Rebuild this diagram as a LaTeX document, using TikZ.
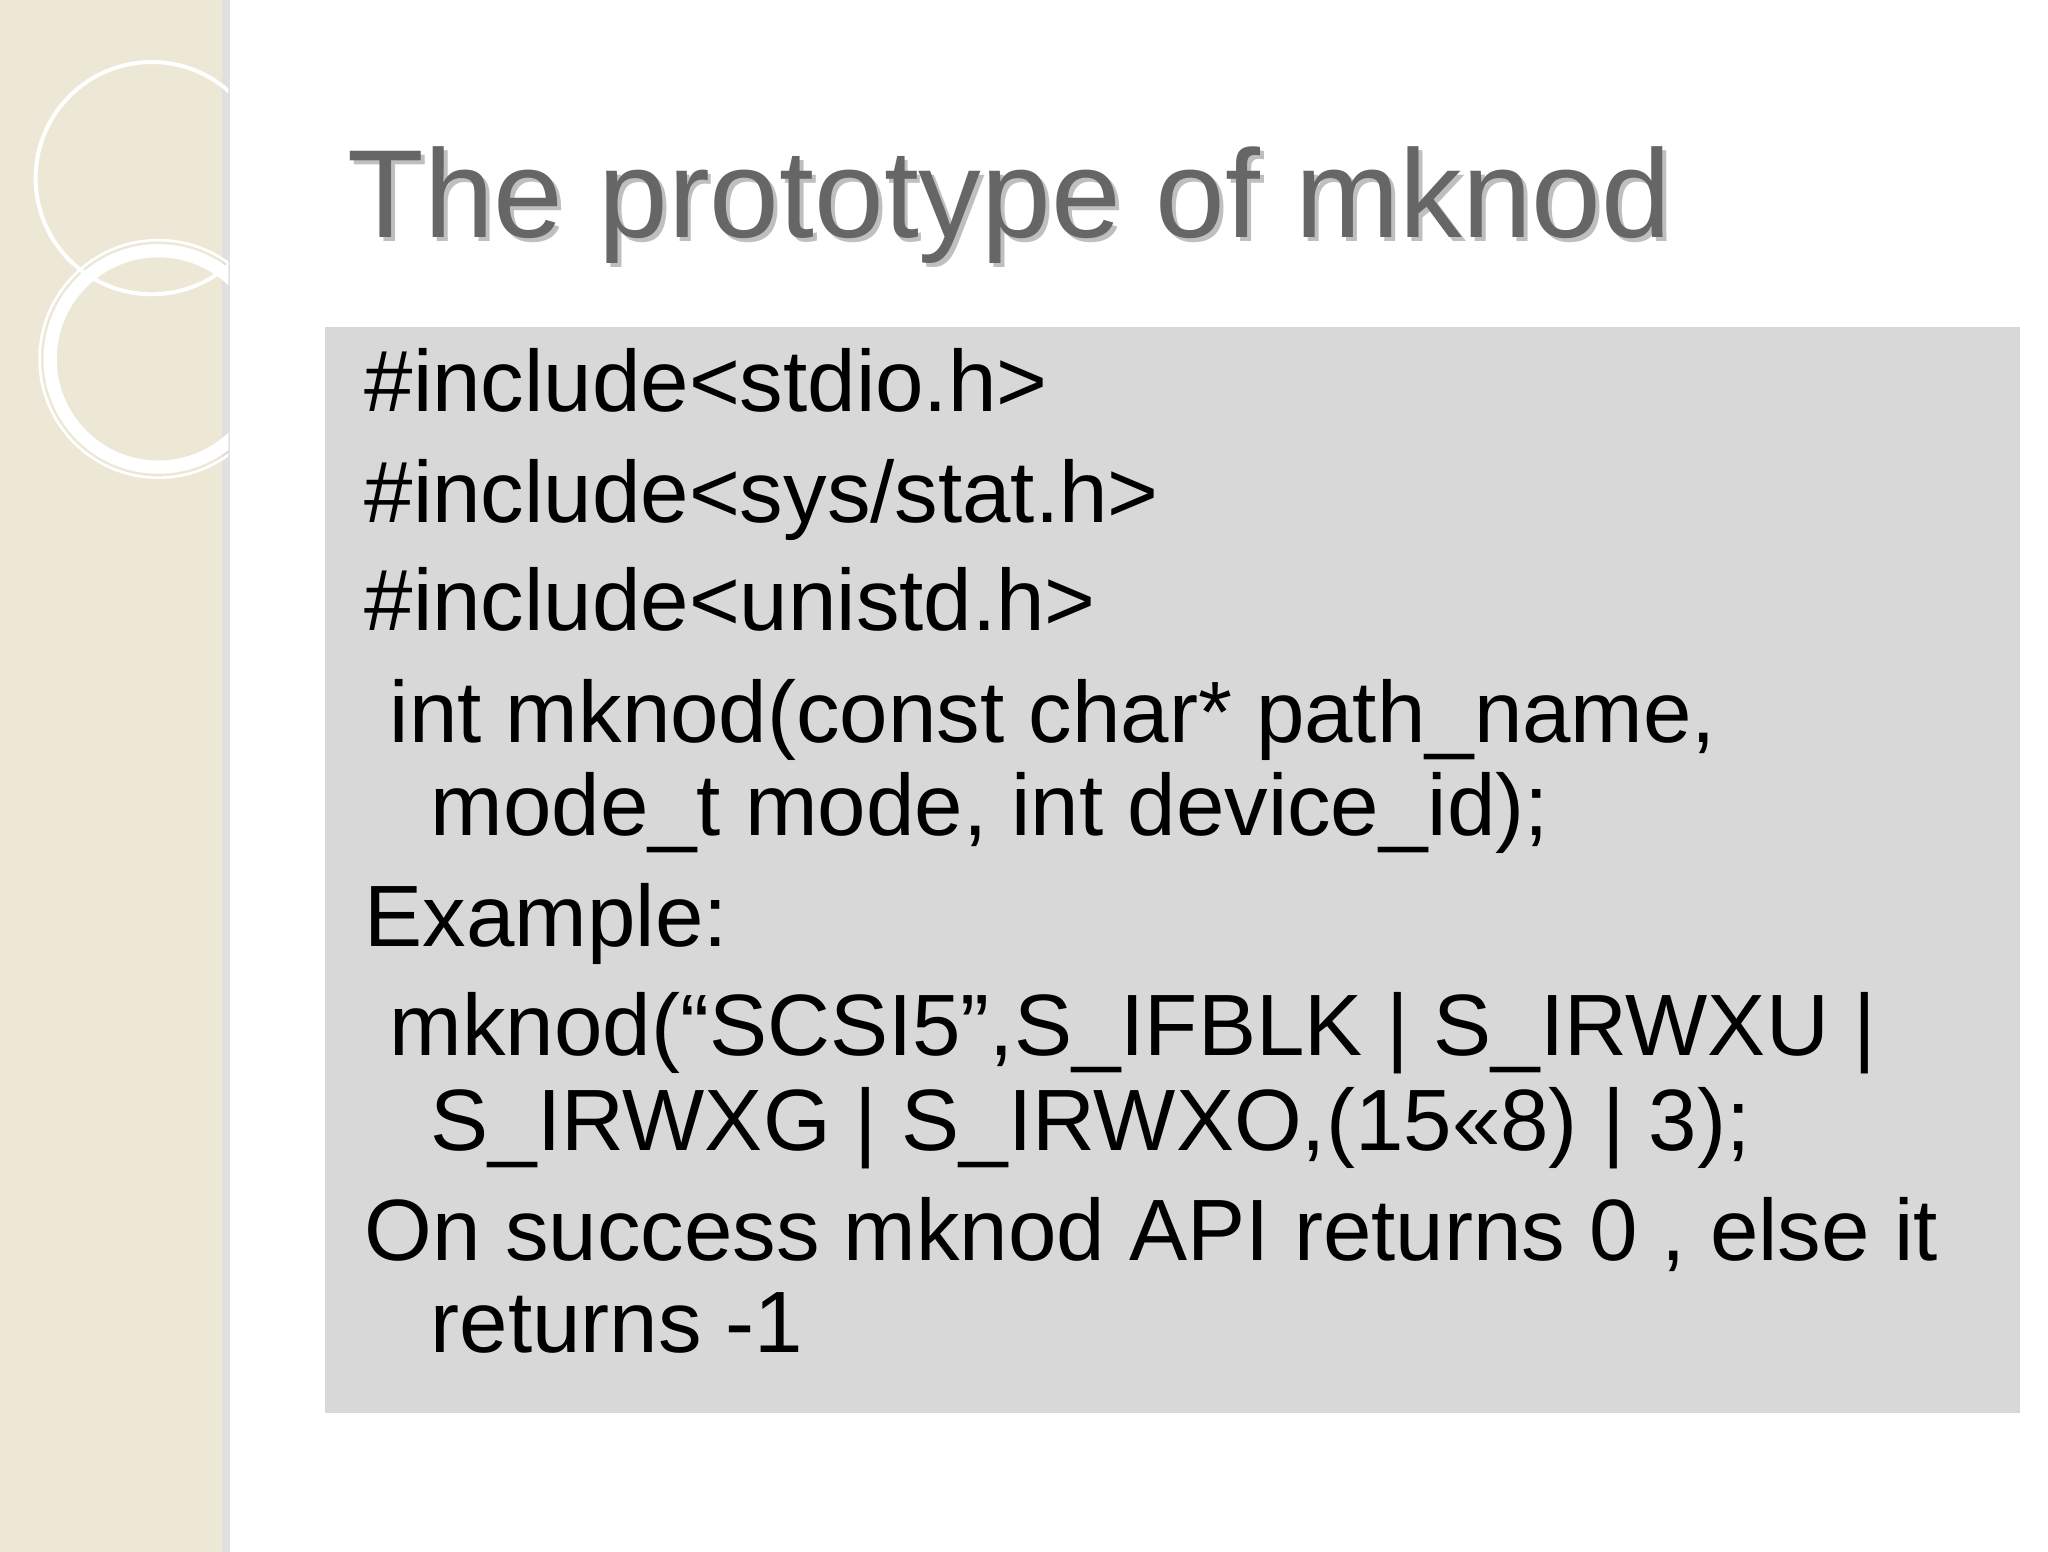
\documentclass[tikz,border=0pt]{standalone}
\usepackage{fontspec}
\setmainfont{Liberation Sans}
\definecolor{beige}{HTML}{EDE8D6}
\definecolor{boxgray}{HTML}{D9D8D8}
\definecolor{titlegray}{HTML}{666666}
\tikzset{code/.style={anchor=base west,inner sep=0pt,font=\fontsize{33}{36}\selectfont}}
\begin{document}
\begin{tikzpicture}[x=0.5pt,y=-0.5pt]
\useasboundingbox (0,0) rectangle (1552,1176);
\fill[white] (0,0) rectangle (1552,1176);
\fill[beige] (0,0) rectangle (173,1176);
\fill[black!12] (168,0) rectangle (174,1176);
\begin{scope}
\clip (0,0) rectangle (173,1176);
\draw[white,line width=1.5pt] (115,135) circle (88);
\draw[white,line width=5pt] (120,272) circle (82);
\draw[white,line width=1pt] (120,272) circle (90);
\end{scope}
\node[anchor=base west,inner sep=0pt,text=black!25,font=\fontsize{47.5}{50}\selectfont] at (266,183) {The prototype of mknod};
\node (title)[anchor=base west,inner sep=0pt,text=titlegray,font=\fontsize{47.5}{50}\selectfont] at (263,180) {The prototype of mknod};
\fill[boxgray] (246,248) rectangle (1531,1071);
\node (l1)[code] at (276,312) {\#include<stdio.h>};
\node (l2)[code] at (276,396) {\#include<sys/stat.h>};
\node (l3)[code] at (276,478) {\#include<unistd.h>};
\node (l4)[code] at (295,563) {int mknod(const char* path\_name,};
\node (l5)[code] at (326,633) {mode\_t mode, int device\_id);};
\node (l6)[code] at (276,717) {Example:};
\node (l7)[code] at (295,800) {mknod(“SCSI5”,S\_IFBLK | S\_IRWXU |};
\node (l8)[code] at (326,872) {S\_IRWXG | S\_IRWXO,(15<<8) | 3);};
\node (l9)[code] at (276,955) {On success mknod API returns 0 , else it};
\node (l10)[code] at (326,1025) {returns -1};
\end{tikzpicture}
\end{document}
